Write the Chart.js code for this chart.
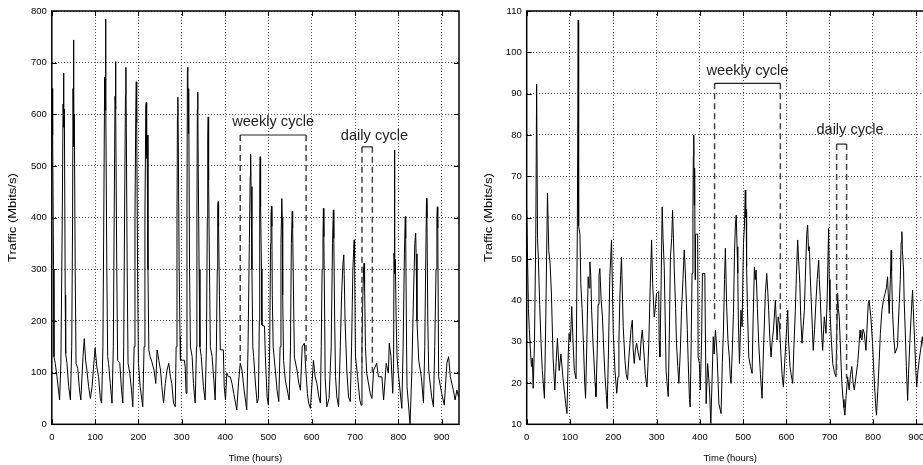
<!DOCTYPE html>
<html>
<head>
<meta charset="utf-8">
<script src="https://cdn.jsdelivr.net/npm/chart.js@4.4.1/dist/chart.umd.min.js"></script>
<style>
  html, body { margin: 0; padding: 0; background: #fff; overflow: hidden; }
  #wrap { position: relative; width: 923px; height: 465px; overflow: hidden; }
  #left-chart { position: absolute; left: 0; top: 0; }
  #right-chart { position: absolute; left: 462px; top: 0; }
</style>
</head>
<body>
<div id="wrap">
  <canvas id="left-chart" width="462" height="465"></canvas>
  <canvas id="right-chart" width="475" height="465"></canvas>
</div>
<script>
// tick values
const hourTicks = [0, 100, 200, 300, 400, 500, 600, 700, 800, 900];
const leftTrafficTicks = [0, 100, 200, 300, 400, 500, 600, 700, 800];
const rightTrafficTicks = [10, 20, 30, 40, 50, 60, 70, 80, 90, 100, 110];

// left panel: [hour, Mbits/s]
const leftTraffic = [
  [0, 620], [1, 650], [2, 560], [4, 300], [5, 131], [8, 118], [12, 92], [18, 47],
  [21, 120], [24, 380], [26, 620], [27, 680], [28, 575], [29, 610], [31, 250], [32, 137], [35, 118], [39, 73], [43, 47],
  [46, 150], [48, 400], [49, 650], [50, 744], [51, 537], [52, 600], [54, 300], [56, 118], [60, 108], [64, 66], [67, 47],
  [72, 131], [75, 166], [78, 124], [81, 105], [85, 73], [89, 50], [93, 73], [97, 118], [100, 148], [104, 111], [108, 92], [112, 50], [115, 41],
  [118, 150], [120, 400], [122, 672], [123, 608], [124, 784], [125, 640], [127, 300], [129, 131], [131, 118], [135, 79], [139, 41],
  [142, 150], [144, 400], [146, 635], [147, 702], [148, 610], [150, 300], [152, 124], [157, 118], [161, 66], [164, 41],
  [166, 150], [168, 400], [170, 637], [171, 691], [172, 575], [174, 300], [176, 118], [180, 99], [184, 66], [187, 34],
  [190, 150], [192, 400], [194, 615], [195, 663], [196, 584], [198, 300], [200, 118], [204, 73], [210, 34],
  [213, 150], [215, 400], [217, 617], [218, 623], [219, 515], [220, 560], [222, 300], [224, 144], [227, 131], [231, 121], [236, 105], [240, 79],
  [243, 144], [247, 124], [251, 105], [254, 73], [258, 41], [262, 79], [266, 105], [270, 118], [274, 92], [277, 79], [281, 41], [285, 34],
  [287, 150], [289, 400], [290, 597], [291, 633], [292, 547], [294, 300], [296, 170], [297, 124], [306, 124], [308, 111], [310, 60],
  [312, 400], [313, 683], [314, 691], [315, 563], [316, 650], [318, 300], [320, 150], [324, 131], [327, 79], [331, 41],
  [334, 150], [335, 400], [336, 610], [337, 643], [338, 505], [340, 300], [342, 150], [345, 131], [350, 73], [354, 47],
  [357, 150], [359, 400], [360, 550], [361, 595], [362, 473], [364, 300], [366, 150], [370, 131], [374, 86], [377, 47],
  [380, 150], [382, 300], [383, 420], [384, 431], [385, 383], [387, 250], [389, 144], [396, 144], [398, 73], [401, 47],
  [404, 99], [408, 92], [412, 92], [416, 79], [420, 60], [427, 28], [431, 80], [435, 118], [439, 105], [444, 66], [450, 28],
  [453, 150], [456, 350], [458, 480], [459, 523], [460, 460], [462, 300], [464, 150], [466, 131], [470, 80], [474, 41], [477, 50],
  [479, 200], [480, 457], [481, 518], [482, 421], [484, 300], [485, 192], [491, 190], [493, 131], [497, 53], [500, 37],
  [503, 150], [505, 350], [506, 400], [507, 422], [508, 383], [509, 250], [511, 150], [516, 105], [520, 66], [524, 44],
  [527, 150], [529, 350], [531, 437], [532, 400], [533, 250], [535, 124], [539, 86], [545, 60], [548, 47],
  [551, 150], [553, 350], [555, 412], [556, 380], [558, 250], [560, 130], [566, 105], [570, 80], [574, 66], [578, 150], [583, 157],
  [586, 111], [590, 60], [593, 41], [597, 31], [604, 124], [608, 92], [612, 79], [616, 55], [620, 41],
  [622, 150], [624, 300], [626, 360], [627, 418], [628, 363], [630, 200], [631, 90], [635, 34], [640, 50],
  [645, 150], [648, 350], [650, 415], [651, 360], [653, 200], [655, 92], [658, 53], [662, 34],
  [666, 150], [669, 250], [672, 310], [674, 328], [675, 290], [677, 200], [681, 105], [685, 53], [689, 44],
  [692, 150], [695, 300], [697, 340], [698, 357], [699, 320], [701, 131], [706, 92], [711, 47], [714, 37],
  [716, 150], [718, 250], [720, 305], [721, 312], [722, 270], [724, 150], [727, 99], [735, 60], [739, 50],
  [743, 105], [750, 118], [754, 92], [762, 92], [766, 47], [772, 118], [777, 99], [779, 157], [783, 131], [787, 60], [789, 118],
  [790, 331], [791, 531], [792, 292], [793, 320], [795, 200], [797, 130], [800, 99], [808, 31],
  [811, 150], [814, 330], [816, 402], [817, 360], [819, 150], [820, 73], [827, 0],
  [831, 100], [835, 250], [838, 350], [840, 370], [841, 330], [843, 200], [847, 124], [853, 92], [858, 41],
  [861, 150], [863, 300], [865, 437], [866, 400], [868, 200], [870, 105], [877, 53], [881, 34],
  [884, 150], [887, 300], [889, 400], [890, 421], [891, 380], [893, 92], [900, 60], [906, 37],
  [912, 118], [916, 131], [920, 92], [927, 66], [931, 47], [935, 66], [939, 53],
];

// right panel: [hour, Mbits/s]
const rightTraffic = [
  [0, 61.8], [2, 50], [4, 38], [6, 33], [9, 27], [11, 24], [13, 26], [15, 18.7], [18, 30], [21, 56], [23, 92.3], [25, 55],
  [27, 50], [30, 39], [33, 30], [36, 23], [39, 19], [41, 16.3], [44, 35], [48, 66], [51, 52], [54, 49], [57, 42], [61, 26],
  [65, 18.3], [68, 25], [71, 30.8], [75, 23], [79, 27], [84, 21], [88, 17], [90, 15], [93, 12.6], [96, 27], [98, 32],
  [101, 30], [104, 38.5], [107, 30], [110, 23], [114, 21], [117, 57.8], [119, 107.8], [120, 58], [123, 56], [125, 44],
  [128, 38], [131, 29.6], [134, 20], [136, 16.3], [139, 30], [142, 45.7], [144, 43], [146, 49.3], [148, 46], [150, 37.6],
  [153, 30], [155, 26.3], [158, 20], [160, 16.7], [163, 28], [165, 39], [167, 46], [169, 47.7], [172, 40], [175, 36],
  [178, 28], [181, 21.5], [184, 17], [186, 13.8], [189, 28], [192, 45.7], [194, 50], [196, 54.6], [198, 43], [200, 32],
  [204, 23], [208, 17.5], [211, 21.5], [213, 30], [215, 40], [217, 46], [219, 50.5], [221, 42], [223, 33.6], [227, 25.5],
  [230, 22], [233, 20.7], [236, 26], [238.5, 29.6], [241, 33], [244, 35.2], [246, 28], [248.5, 24.7], [251, 28], [254, 29.6],
  [258, 27], [261.5, 25.5], [264, 30], [267, 32.8], [269, 30], [271.5, 26.3], [274, 22], [277.7, 19], [280, 24], [282, 29.6],
  [285, 42], [288.5, 54.6], [291, 44], [294.6, 36], [297, 38], [300, 41.7], [304, 42.1], [305, 42], [306, 30], [307.7, 26.3],
  [310, 40], [313, 62.6], [315, 55], [317.7, 48.1], [320, 35], [322, 23.1], [325, 19], [327, 16.7], [330, 35], [332, 50.5],
  [335, 55], [337, 61.8], [339, 55], [341, 47.3], [344, 38], [346, 29.6], [349, 24], [351.5, 19.9], [355, 28], [357.7, 37.6],
  [361, 45], [364, 52.2], [366, 48], [369, 39.2], [371, 33], [373, 25.5], [376, 16], [377.7, 14.2], [380, 30], [382, 46.5],
  [384, 62], [385, 75], [386, 80], [387, 63], [388, 72], [389, 45], [390, 56], [395, 56], [396, 26.3], [399, 24.7],
  [401, 18.3], [404, 30], [406, 46.5], [411.5, 46.5], [413, 30], [414.5, 15], [418, 24.7], [422, 19], [425.4, 10.2],
  [428, 20], [431, 31.2], [433, 27], [436, 32.8], [438, 30], [440, 26.3], [444, 15], [449, 12.6], [452, 25], [454.5, 32.8],
  [457, 45], [459, 52.6], [462, 38.4], [465, 30], [468, 26.3], [470, 22], [472, 19.9], [475, 28], [477.6, 36.8], [480, 51.3],
  [482, 58], [484, 60.6], [486, 53], [487.6, 46.5], [489, 35], [491.5, 24.7], [495, 37.6], [497.6, 33.6], [500.7, 53.8],
  [503, 58], [505, 66.7], [506, 60], [507, 62], [508, 48.1], [510, 38], [513, 26.3], [517, 24], [520.7, 22.3], [523, 35],
  [526, 48.1], [528, 45], [530, 47.3], [533, 38], [536, 29.6], [540, 22], [543.7, 16.3], [547, 28], [551.4, 41.7],
  [554.5, 46.5], [557, 42], [559, 37.6], [562, 30], [564.5, 26.3], [567, 30], [570, 32.8], [574.5, 40], [578.4, 30.4],
  [581, 36], [583.7, 34.4], [587.6, 26.3], [590, 22], [593, 19], [596, 25], [599, 30.4], [603, 37.6], [605, 30], [608.3, 24],
  [611, 22], [614.5, 19.9], [617, 28], [620.6, 37.6], [623, 46], [626, 54.6], [628, 50], [631, 44.1], [633, 36], [636, 29.6],
  [639, 34], [641.4, 37.6], [645, 50], [647, 56], [649, 58.2], [651, 52], [653, 53], [655, 46], [657, 40.9], [660, 33],
  [662, 27.9], [665, 33], [668, 39.2], [671, 45], [674.5, 49.7], [676, 45], [678, 40.9], [681, 33], [683.7, 27.9],
  [687.5, 36], [691.4, 32], [694, 40], [697.5, 57.4], [699, 45], [700.6, 37.6], [704, 30], [707, 24.7], [711, 22.5],
  [714.5, 21.5], [716, 30], [718.3, 41.7], [720, 38], [722, 36], [725, 28], [728, 19.9], [731, 16], [733, 14], [735, 12.2],
  [738, 17], [741.4, 21.5], [743, 20], [745, 18.3], [748, 22], [751, 24], [754, 20], [756.8, 18.3], [760.6, 21.5],
  [764.5, 24.7], [767, 28], [770, 32.8], [772, 31], [774.5, 30.4], [777, 33], [780, 32], [783.7, 27.9], [786, 33],
  [789, 39.2], [791, 40], [795, 36], [799, 29.6], [801, 25], [803.7, 19], [806, 15], [808, 12.2], [811, 18], [814.4, 25.5],
  [817, 32], [820.6, 37.6], [824, 40], [828, 41.7], [831, 43], [833.6, 45.7], [835, 42], [837.5, 36.8], [840, 45],
  [842, 52.1], [843, 47], [845, 37.6], [848, 31], [851, 27.2], [856.7, 28.8], [858, 33], [860.6, 39.2], [863, 45], [865, 54],
  [866.7, 56.6], [868, 52], [870.6, 47.3], [872, 40], [874.4, 32.8], [877, 24], [880, 15.8], [882, 22], [885, 29.6], [888, 36],
  [891.4, 42.5], [893, 38], [896.7, 28.8], [899, 23], [901, 19], [903, 22], [906.7, 25.5], [910, 28], [914, 31.2],
  [918, 27], [922, 22], [927, 25], [932, 30], [936, 27], [940, 24],
];

// cycle brackets: hours spanned, bracket level, where each dashed leg stops, label position
const leftCycles = [
  { text: 'weekly cycle', hours: [435, 587], top: 560, ends: [120, 120], label: [511, 585] },
  { text: 'daily cycle', hours: [716, 740], top: 537, ends: [110, 100], label: [745, 559] },
];
const rightCycles = [
  { text: 'weekly cycle', hours: [434, 586], top: 92.5, ends: [35, 33], label: [510, 95.4] },
  { text: 'daily cycle', hours: [716, 739], top: 77.8, ends: [22, 21], label: [747, 81.2] },
];

const FONT = 'Liberation Sans, Arial, Helvetica, sans-serif';
const axisFont = { family: FONT, size: 9.5 };

// gnuplot-like box with inward tick marks on all four sides
const framePlugin = {
  id: 'frame',
  afterDatasetsDraw(chart) {
    const { ctx, chartArea: a, scales } = chart;
    ctx.save();
    ctx.strokeStyle = '#000';
    ctx.lineWidth = 1;
    ctx.beginPath();
    scales.x.ticks.forEach((t) => {
      const px = Math.round(scales.x.getPixelForValue(t.value)) + 0.5;
      ctx.moveTo(px, a.bottom);
      ctx.lineTo(px, a.bottom - 5);
      ctx.moveTo(px, a.top);
      ctx.lineTo(px, a.top + 5);
    });
    scales.y.ticks.forEach((t) => {
      const py = Math.round(scales.y.getPixelForValue(t.value)) + 0.5;
      ctx.moveTo(a.left, py);
      ctx.lineTo(a.left + 5, py);
      ctx.moveTo(a.right, py);
      ctx.lineTo(a.right - 5, py);
    });
    ctx.stroke();
    ctx.lineWidth = 1.5;
    ctx.strokeRect(a.left, a.top, a.right - a.left, a.bottom - a.top);
    ctx.restore();
  },
};

// the y title in the reference is drawn stretched along its length
const yTitlePlugin = {
  id: 'yTitle',
  afterDraw(chart, args, opts) {
    const { ctx, chartArea: a } = chart;
    ctx.save();
    ctx.translate(opts.x, (a.top + a.bottom) / 2);
    ctx.rotate(-Math.PI / 2);
    ctx.scale(1.3, 1);
    ctx.fillStyle = '#000';
    ctx.font = `10px ${FONT}`;
    ctx.textAlign = 'center';
    ctx.textBaseline = 'middle';
    ctx.fillText(opts.text, 0, 0);
    ctx.restore();
  },
};

const cyclePlugin = {
  id: 'cycles',
  afterDatasetsDraw(chart, args, opts) {
    const { ctx, scales: { x, y } } = chart;
    ctx.save();
    (opts.marks || []).forEach((m) => {
      const x0 = x.getPixelForValue(m.hours[0]);
      const x1 = x.getPixelForValue(m.hours[1]);
      const yt = y.getPixelForValue(m.top);

      ctx.strokeStyle = '#444';
      ctx.lineWidth = 1.5;
      ctx.setLineDash([6, 4]);
      ctx.beginPath();
      ctx.moveTo(x0, yt);
      ctx.lineTo(x0, y.getPixelForValue(m.ends[0]));
      ctx.moveTo(x1, yt);
      ctx.lineTo(x1, y.getPixelForValue(m.ends[1]));
      ctx.stroke();

      ctx.setLineDash([]);
      ctx.lineWidth = 1.2;
      ctx.strokeStyle = '#222';
      ctx.beginPath();
      ctx.moveTo(x0, yt);
      ctx.lineTo(x1, yt);
      ctx.stroke();

      ctx.fillStyle = '#222';
      ctx.font = `14.6px ${FONT}`;
      ctx.textAlign = 'center';
      ctx.textBaseline = 'middle';
      ctx.fillText(m.text, x.getPixelForValue(m.label[0]), y.getPixelForValue(m.label[1]));
    });
    ctx.restore();
  },
};

function buildChart(canvas, points, yTicks, yMin, yMax, yWidth, titleX, rightPad, marks) {
  return new Chart(canvas, {
    type: 'line',
    data: {
      datasets: [
        {
          data: points.map(([h, v]) => ({ x: h, y: v })),
          borderColor: '#000',
          borderWidth: 1,
          pointRadius: 0,
          tension: 0,
          fill: false,
        },
      ],
    },
    options: {
      responsive: false,
      animation: false,
      devicePixelRatio: 1,
      layout: { padding: { top: 11, right: rightPad, left: 0, bottom: 0 } },
      plugins: {
        legend: { display: false },
        tooltip: { enabled: false },
        cycles: { marks },
        yTitle: { text: 'Traffic (Mbits/s)', x: titleX },
      },
      scales: {
        x: {
          type: 'linear',
          min: 0,
          max: 940,
          afterBuildTicks: (scale) => {
            scale.ticks = hourTicks.map((v) => ({ value: v }));
          },
          afterFit: (scale) => {
            scale.height = 40.7;
          },
          grid: { color: '#555', drawTicks: false },
          border: { display: false, dash: [1, 2] },
          ticks: { color: '#000', font: axisFont, padding: 7, maxRotation: 0 },
          title: {
            display: true,
            text: 'Time (hours)',
            color: '#000',
            font: axisFont,
            padding: { top: 0, bottom: 1.3 },
          },
        },
        y: {
          type: 'linear',
          min: yMin,
          max: yMax,
          afterBuildTicks: (scale) => {
            scale.ticks = yTicks.map((v) => ({ value: v }));
          },
          afterFit: (scale) => {
            scale.width = yWidth;
          },
          grid: { color: '#555', drawTicks: false },
          border: { display: false, dash: [1, 2] },
          ticks: { color: '#000', font: axisFont, padding: 5 },
        },
      },
    },
    plugins: [framePlugin, cyclePlugin, yTitlePlugin],
  });
}

buildChart(document.getElementById('left-chart'), leftTraffic, leftTrafficTicks, 0, 800, 51.8, 13.5, 3, leftCycles);
buildChart(document.getElementById('right-chart'), rightTraffic, rightTrafficTicks, 10, 110, 64.7, 27, 3.4, rightCycles);
</script>
</body>
</html>
